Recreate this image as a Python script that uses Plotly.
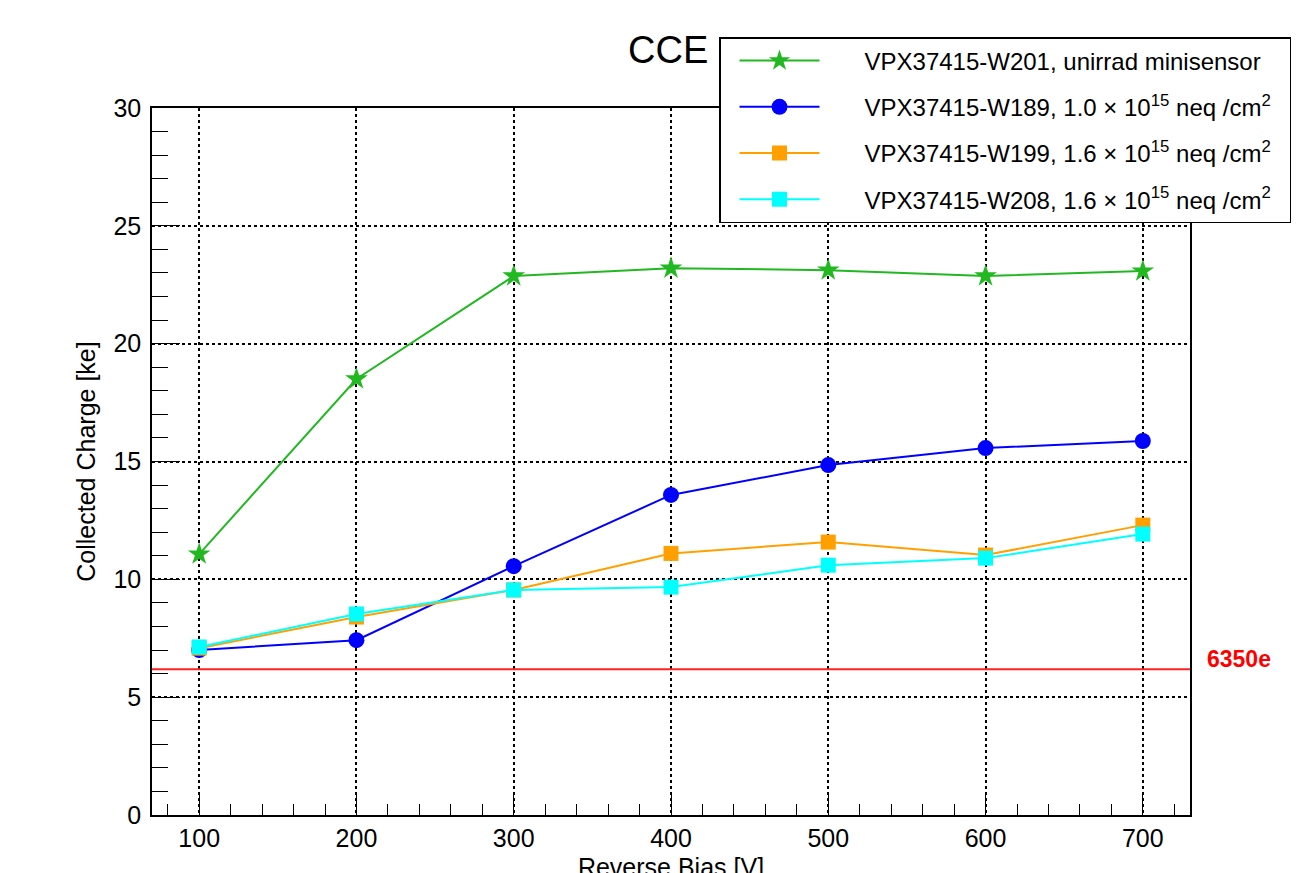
import plotly.graph_objects as go

bias = [100, 200, 300, 400, 500, 600, 700]
w201 = [11.07, 18.5, 22.87, 23.2, 23.12, 22.87, 23.08]
w189 = [7.0, 7.42, 10.56, 13.58, 14.85, 15.57, 15.87]
w199 = [7.08, 8.4, 9.55, 11.1, 11.58, 11.03, 12.3]
w208 = [7.13, 8.53, 9.55, 9.67, 10.6, 10.9, 11.92]
threshold = 6.18
threshold_label = "6350e"

names = [
    "VPX37415-W201, unirrad minisensor",
    "VPX37415-W189, 1.0 × 10<sup>15</sup> neq /cm<sup>2</sup>",
    "VPX37415-W199, 1.6 × 10<sup>15</sup> neq /cm<sup>2</sup>",
    "VPX37415-W208, 1.6 × 10<sup>15</sup> neq /cm<sup>2</sup>",
]
series = [w201, w189, w199, w208]
colors = ["#22b822", "#0000ff", "#ffa000", "#00ffff"]
symbols = ["star", "circle", "square", "square"]
sizes = [17, 16, 15, 15]

FONT = "Liberation Sans, Arial, Helvetica, sans-serif"
PAD = "&nbsp;" * 6
TAIL = "&nbsp;" * 2

fig = go.Figure()
for i, (nm, ys, c, s, sz) in enumerate(zip(names, series, colors, symbols, sizes)):
    fig.add_trace(go.Scatter(
        x=bias, y=ys, name=PAD + nm + TAIL, mode="lines+markers",
        line=dict(color=c, width=2),
        marker=dict(symbol=s, size=sz, color=c, line=dict(width=0)),
        legendgroup=f"g{i}",
    ))

fig.add_shape(type="line", xref="paper", x0=0, x1=1, yref="y", y0=threshold, y1=threshold,
              line=dict(color="#ff2020", width=2))
fig.add_annotation(xref="paper", x=(1205-152)/1038, yref="y", y=threshold, text=f"<b>{threshold_label}</b>",
                   showarrow=False, xanchor="left", yanchor="bottom", yshift=-5,
                   font=dict(color="#ff0000", size=23, family=FONT))

# page body has an 8px offset; margins compensate so the frame lands at 152..1190 x 108..815
fig.update_layout(
    width=1300, height=873,
    margin=dict(l=144, r=118, t=100, b=66, autoexpand=False),
    plot_bgcolor="white", paper_bgcolor="white",
    font=dict(family=FONT, color="black"),
    title=dict(text="CCE", x=620/1300, xanchor="left", xref="container",
               y=1-42/873, yanchor="middle", yref="container",
               font=dict(size=38, family=FONT, color="black")),
    showlegend=True,
    legend=dict(x=(719-152)/1038, xanchor="left", y=(815-37)/707, yanchor="top",
                bgcolor="white", bordercolor="black", borderwidth=1.5,
                font=dict(size=24, family=FONT, color="black"),
                itemwidth=80, tracegroupgap=12, indentation=14, itemclick=False),
    xaxis=dict(range=[70, 730], dtick=100, tick0=0, automargin=False,
               showline=True, mirror=True, linecolor="black", linewidth=1.5,
               ticks="inside", ticklen=22, tickwidth=1, tickcolor="black",
               showgrid=True, gridcolor="black", griddash="dot", gridwidth=1.5,
               zeroline=False,
               tickfont=dict(size=25, family=FONT),
               minor=dict(dtick=20, tick0=0, ticks="inside", ticklen=11, tickcolor="black", showgrid=False),
               title=dict(text="Reverse Bias [V]", font=dict(size=25, family=FONT), standoff=12)),
    yaxis=dict(range=[0, 30], dtick=5, tick0=0, automargin=False,
               showline=True, mirror=True, linecolor="black", linewidth=1.5,
               ticks="inside", ticklen=28, tickwidth=1, tickcolor="black",
               showgrid=True, gridcolor="black", griddash="dot", gridwidth=1.5,
               zeroline=False,
               tickfont=dict(size=25, family=FONT), ticklabelstandoff=4,
               minor=dict(dtick=1, tick0=0, ticks="inside", ticklen=16, tickcolor="black", showgrid=False),
               title=dict(text="Collected Charge [ke]", font=dict(size=25, family=FONT), standoff=11)),
)

fig.write_html("out.html")
